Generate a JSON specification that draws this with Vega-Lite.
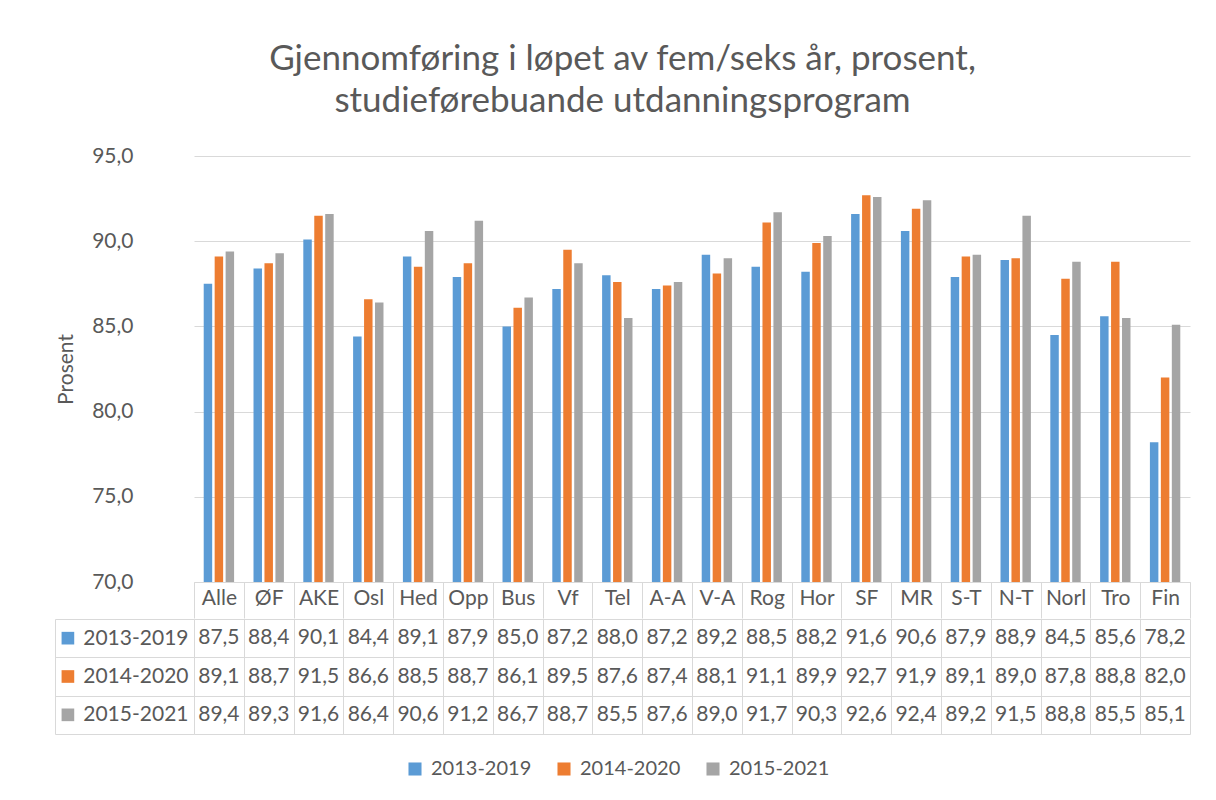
{
  "$schema": "https://vega.github.io/schema/vega-lite/v6.json",
  "background": "white",
  "padding": {"left": 54, "top": 42, "right": 5, "bottom": 5},
  "config": {"font": "Lato", "view": {"stroke": null}},
  "title": {"text": ["Gjennomføring i løpet av fem/seks år, prosent,", "studieførebuande utdanningsprogram"], "fontSize": 35, "font": "Lato", "fontWeight": "normal", "color": "#595959", "anchor": "middle", "lineHeight": 42, "offset": 26},
  "datasets": {
    "d": [
      {"k": "Alle", "s": "2013-2019", "v": 87.5}, {"k": "Alle", "s": "2014-2020", "v": 89.1}, {"k": "Alle", "s": "2015-2021", "v": 89.4},
      {"k": "ØF", "s": "2013-2019", "v": 88.4}, {"k": "ØF", "s": "2014-2020", "v": 88.7}, {"k": "ØF", "s": "2015-2021", "v": 89.3},
      {"k": "AKE", "s": "2013-2019", "v": 90.1}, {"k": "AKE", "s": "2014-2020", "v": 91.5}, {"k": "AKE", "s": "2015-2021", "v": 91.6},
      {"k": "Osl", "s": "2013-2019", "v": 84.4}, {"k": "Osl", "s": "2014-2020", "v": 86.6}, {"k": "Osl", "s": "2015-2021", "v": 86.4},
      {"k": "Hed", "s": "2013-2019", "v": 89.1}, {"k": "Hed", "s": "2014-2020", "v": 88.5}, {"k": "Hed", "s": "2015-2021", "v": 90.6},
      {"k": "Opp", "s": "2013-2019", "v": 87.9}, {"k": "Opp", "s": "2014-2020", "v": 88.7}, {"k": "Opp", "s": "2015-2021", "v": 91.2},
      {"k": "Bus", "s": "2013-2019", "v": 85.0}, {"k": "Bus", "s": "2014-2020", "v": 86.1}, {"k": "Bus", "s": "2015-2021", "v": 86.7},
      {"k": "Vf", "s": "2013-2019", "v": 87.2}, {"k": "Vf", "s": "2014-2020", "v": 89.5}, {"k": "Vf", "s": "2015-2021", "v": 88.7},
      {"k": "Tel", "s": "2013-2019", "v": 88.0}, {"k": "Tel", "s": "2014-2020", "v": 87.6}, {"k": "Tel", "s": "2015-2021", "v": 85.5},
      {"k": "A-A", "s": "2013-2019", "v": 87.2}, {"k": "A-A", "s": "2014-2020", "v": 87.4}, {"k": "A-A", "s": "2015-2021", "v": 87.6},
      {"k": "V-A", "s": "2013-2019", "v": 89.2}, {"k": "V-A", "s": "2014-2020", "v": 88.1}, {"k": "V-A", "s": "2015-2021", "v": 89.0},
      {"k": "Rog", "s": "2013-2019", "v": 88.5}, {"k": "Rog", "s": "2014-2020", "v": 91.1}, {"k": "Rog", "s": "2015-2021", "v": 91.7},
      {"k": "Hor", "s": "2013-2019", "v": 88.2}, {"k": "Hor", "s": "2014-2020", "v": 89.9}, {"k": "Hor", "s": "2015-2021", "v": 90.3},
      {"k": "SF", "s": "2013-2019", "v": 91.6}, {"k": "SF", "s": "2014-2020", "v": 92.7}, {"k": "SF", "s": "2015-2021", "v": 92.6},
      {"k": "MR", "s": "2013-2019", "v": 90.6}, {"k": "MR", "s": "2014-2020", "v": 91.9}, {"k": "MR", "s": "2015-2021", "v": 92.4},
      {"k": "S-T", "s": "2013-2019", "v": 87.9}, {"k": "S-T", "s": "2014-2020", "v": 89.1}, {"k": "S-T", "s": "2015-2021", "v": 89.2},
      {"k": "N-T", "s": "2013-2019", "v": 88.9}, {"k": "N-T", "s": "2014-2020", "v": 89.0}, {"k": "N-T", "s": "2015-2021", "v": 91.5},
      {"k": "Norl", "s": "2013-2019", "v": 84.5}, {"k": "Norl", "s": "2014-2020", "v": 87.8}, {"k": "Norl", "s": "2015-2021", "v": 88.8},
      {"k": "Tro", "s": "2013-2019", "v": 85.6}, {"k": "Tro", "s": "2014-2020", "v": 88.8}, {"k": "Tro", "s": "2015-2021", "v": 85.5},
      {"k": "Fin", "s": "2013-2019", "v": 78.2}, {"k": "Fin", "s": "2014-2020", "v": 82.0}, {"k": "Fin", "s": "2015-2021", "v": 85.1}
    ]
  },
  "spacing": -11,
  "resolve": {"scale": {"color": "shared"}},
  "vconcat": [
    {
      "width": 996,
      "height": 426,
      "data": {"name": "d"},
      "mark": {"type": "bar"},
      "encoding": {
        "x": {"field": "k", "type": "nominal", "sort": null,
          "scale": {"paddingInner": 0, "paddingOuter": 0},
          "axis": {"title": null, "tickBand": "extent", "tickSize": 36, "tickColor": "#d9d9d9", "domainColor": "#d9d9d9", "labelAngle": 0, "labelBaseline": "middle", "labelPadding": -20, "labelFontSize": 21, "labelColor": "#595959", "labelFont": "Lato"}},
        "xOffset": {"field": "s", "type": "nominal", "scale": {"paddingInner": 0.227, "paddingOuter": 0.886}},
        "y": {"field": "v", "type": "quantitative",
          "scale": {"domain": [70, 95], "zero": false},
          "axis": {"values": [70, 75, 80, 85, 90, 95], "labelExpr": "replace(format(datum.value,'.1f'),'.',',')", "title": "Prosent", "domain": false, "ticks": false, "grid": true, "gridColor": "#d9d9d9", "labelFontSize": 21, "labelColor": "#595959", "labelPadding": 61, "titleFontSize": 21, "titleFontWeight": "normal", "titleColor": "#595959", "titleFont": "Lato", "titlePadding": 15}},
        "y2": {"datum": 70},
        "color": {"field": "s", "type": "nominal", "title": null,
          "scale": {"domain": ["2013-2019", "2014-2020", "2015-2021"], "range": ["#5B9BD5", "#ED7D31", "#A5A5A5"]},
          "legend": {"orient": "none", "legendX": 211, "legendY": 603, "direction": "horizontal", "symbolType": "square", "symbolSize": 170, "symbolStrokeWidth": 0, "labelFontSize": 20, "labelOffset": 6, "labelColor": "#595959", "labelFont": "Lato", "columnPadding": 22}}
      }
    },
    {
      "width": 996,
      "height": 115,
      "data": {"name": "d"},
      "transform": [{"calculate": "replace(format(datum.v,'.1f'),'.',',')", "as": "lab"}],
      "encoding": {
        "x": {"field": "k", "type": "nominal", "sort": null,
          "scale": {"paddingInner": 0, "paddingOuter": 0},
          "axis": {"title": null, "grid": true, "tickBand": "extent", "gridColor": "#d9d9d9", "labels": false, "ticks": false, "domain": false}},
        "y": {"field": "s", "type": "nominal",
          "scale": {"paddingInner": 0, "paddingOuter": 0},
          "axis": {"title": null, "offset": 139, "tickSize": -139, "tickBand": "extent", "tickColor": "#d9d9d9", "domainColor": "#d9d9d9", "grid": true, "gridColor": "#d9d9d9", "labelPadding": 6, "labelFontSize": 21, "labelColor": "#595959", "labelFont": "Lato"}}
      },
      "layer": [
        {"mark": {"type": "text", "fontSize": 21, "color": "#595959", "font": "Lato"},
          "encoding": {"text": {"field": "lab"}}},
        {"transform": [{"filter": "datum.k === 'Alle'"}],
          "mark": {"type": "square", "size": 160, "opacity": 1, "xOffset": -151},
          "encoding": {"color": {"field": "s", "type": "nominal"}}}
      ]
    }
  ]
}
